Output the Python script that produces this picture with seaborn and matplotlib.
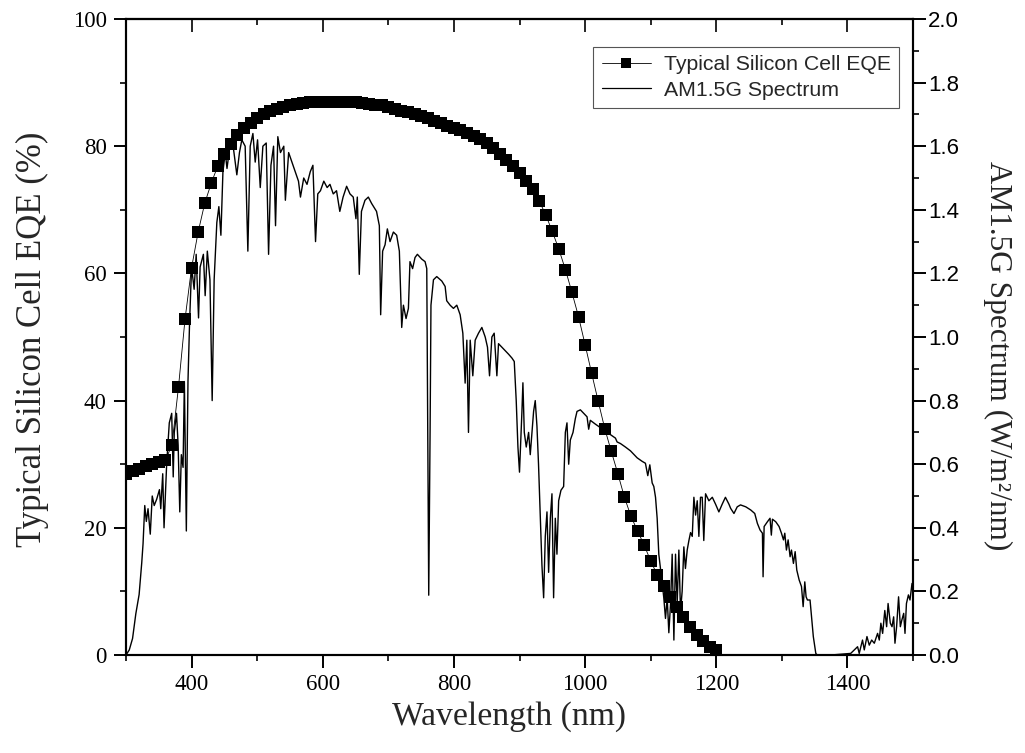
import matplotlib
matplotlib.use("Agg")
import matplotlib.pyplot as plt
from matplotlib.ticker import MultipleLocator
from matplotlib.lines import Line2D
import seaborn as sns
import pandas as pd

# ---- data -------------------------------------------------------------
eqe_wavelength = list(range(300, 1201, 10))
eqe_percent = [
    28.5, 28.9, 29.3, 29.7, 30.0, 30.3, 30.6, 33.0, 42.1, 52.8,
    60.9, 66.5, 71.0, 74.2, 76.9, 78.8, 80.4, 81.7, 82.8, 83.7,
    84.4, 85.0, 85.5, 85.9, 86.2, 86.5, 86.7, 86.8, 86.9, 87.0,
    87.0, 87.0, 87.0, 87.0, 86.9, 86.9, 86.8, 86.7, 86.5, 86.4,
    86.2, 85.9, 85.6, 85.3, 85.0, 84.7, 84.4, 84.0, 83.6, 83.2,
    82.8, 82.5, 82.1, 81.6, 81.1, 80.5, 79.7, 78.8, 77.9, 76.9,
    75.8, 74.6, 73.3, 71.4, 69.2, 66.6, 63.8, 60.6, 57.0, 53.2,
    48.8, 44.3, 39.9, 35.6, 32.0, 28.5, 24.8, 21.8, 19.5, 17.3,
    14.8, 12.6, 10.9, 9.1, 7.5, 5.9, 4.4, 3.2, 2.2, 1.3, 0.8,
]

spec_wavelength = [
    300, 305, 310, 315, 320, 324, 326, 328.6, 331, 333.6, 337, 340, 343, 346.8,
    351, 353, 356, 358, 362, 366, 369.7, 372, 373.6, 377, 379.5, 382, 384.4,
    387, 389, 392, 394.5, 397, 400, 403.9, 407, 410.6, 413, 418, 420.7, 424,
    428, 431.4, 434.4, 438.5, 441.6, 444.7, 447.8, 451.3, 454, 459, 464, 469,
    473, 476.6, 481.7, 485.8, 489.4, 493.5, 497, 500.6, 504.7, 508.7, 513.8,
    517.4, 521, 525, 528, 531.5, 535.5, 540.6, 543, 548, 553, 558, 563, 566,
    571, 576, 581, 585, 589, 592.4, 596.5, 601.6, 606.7, 611, 616, 621, 626,
    631, 636.4, 641.5, 646.5, 650.6, 652.7, 655.7, 659, 664.4, 669.5, 674.5,
    682, 686.3, 688.3, 691.3, 695, 698.5, 702.6, 707.7, 712.7, 716.8, 718.9,
    720.4, 723, 727, 730.6, 733, 737, 740.7, 744.3, 750.9, 756, 758.6, 760,
    761.6, 763.7, 765, 768.8, 773.8, 781.5, 786.6, 789, 794.2, 799.3, 804.4,
    809.5, 813.6, 817.1, 819.7, 822.2, 824.8, 828.8, 832.4, 837.5, 842.6,
    847.7, 851.2, 854.3, 857.9, 861.4, 865.5, 868, 873, 878.2, 883.3, 888.4,
    892, 895, 897.6, 900, 903.7, 905.2, 907.3, 910.3, 913.9, 916.4, 921.5,
    924, 926.6, 929, 931.7, 934.2, 936.8, 939.3, 941.9, 944.4, 947, 949.5,
    952, 954.6, 957.1, 959.7, 963.2, 967.3, 969.9, 972.4, 975, 977.5, 981.6,
    985.1, 987.7, 992.8, 997.9, 1003, 1005.5, 1008, 1015.7, 1023.3, 1031,
    1038.6, 1046.3, 1048.8, 1053.9, 1061.5, 1069.2, 1074.3, 1079.4, 1087,
    1092, 1095.6, 1098.7, 1102.3, 1104.8, 1107.4, 1109.9, 1112.4, 1115,
    1117.5, 1120, 1122.6, 1125.2, 1127.7, 1130.3, 1132.8, 1135.4, 1137.9,
    1140.4, 1143, 1145.5, 1148, 1150.6, 1153, 1155.7, 1158.3, 1160.8, 1163.4,
    1165.9, 1168.5, 1171, 1173.5, 1176, 1178.6, 1181, 1183.7, 1188.8, 1194,
    1199, 1204, 1209, 1214, 1219.4, 1222, 1227, 1232, 1237, 1245, 1252.6,
    1258.7, 1262.7, 1266.8, 1270.4, 1271.4, 1273, 1278, 1282, 1284, 1285.7,
    1290.7, 1295.8, 1299.4, 1302.5, 1304.5, 1307, 1309.6, 1312.6, 1314.7,
    1317.7, 1320.3, 1322.8, 1326.4, 1330, 1332.5, 1335, 1337, 1339, 1343,
    1345.7, 1348, 1351.8, 1354, 1375, 1405, 1415.5, 1418, 1423, 1425.7,
    1429.8, 1433.3, 1437, 1441, 1446, 1448.6, 1451, 1453.7, 1457, 1459.8,
    1462, 1465.4, 1468, 1470.5, 1472.5, 1475, 1478, 1480.7, 1483, 1485.8,
    1487.8, 1490, 1493, 1495.4, 1498.5, 1500,
]
spec_irradiance = [
    0.0, 0.016, 0.052, 0.13, 0.19, 0.29, 0.35, 0.47, 0.42, 0.46, 0.38, 0.50, 0.47, 0.49,
    0.52, 0.46, 0.57, 0.40, 0.60, 0.73, 0.76, 0.56, 0.70, 0.76, 0.66, 0.45, 0.63,
    0.59, 0.86, 0.39, 0.86, 1.05, 1.22, 1.15, 1.26, 1.06, 1.22, 1.26, 1.13, 1.27,
    1.18, 0.80, 1.18, 1.36, 1.41, 1.32, 1.52, 1.58, 1.53, 1.61, 1.59, 1.51,
    1.58, 1.62, 1.60, 1.27, 1.60, 1.64, 1.55, 1.62, 1.47, 1.60, 1.61,
    1.26, 1.54, 1.60, 1.35, 1.63, 1.58, 1.60, 1.43, 1.58, 1.55, 1.52, 1.49, 1.44,
    1.50, 1.48, 1.52, 1.54, 1.30, 1.45, 1.46, 1.49, 1.47, 1.48, 1.45, 1.46, 1.395,
    1.44, 1.474, 1.45, 1.44, 1.372, 1.44, 1.197, 1.395, 1.43, 1.44, 1.42,
    1.395, 1.35, 1.07, 1.27, 1.29, 1.34, 1.30, 1.33, 1.32, 1.27, 1.125,
    1.03, 1.10, 1.058, 1.09, 1.237, 1.215, 1.25, 1.26, 1.245, 1.237, 1.215, 0.71,
    0.188, 0.71, 1.10, 1.18, 1.19, 1.176, 1.159, 1.114, 1.10, 1.09, 1.10,
    1.07, 1.012, 0.855, 0.99, 0.70, 0.99, 0.878, 0.99, 1.012, 1.03,
    1.00, 0.968, 0.878, 1.00, 1.012, 0.878, 0.979, 0.968, 0.957, 0.946, 0.934,
    0.923, 0.80, 0.654, 0.575, 0.766, 0.856, 0.70, 0.654, 0.70, 0.63, 0.766,
    0.80, 0.72, 0.60, 0.43, 0.283, 0.18, 0.373, 0.45, 0.26, 0.43, 0.507,
    0.18, 0.43, 0.317, 0.485, 0.518, 0.53, 0.70, 0.73, 0.60, 0.676, 0.70,
    0.743, 0.766, 0.771, 0.76, 0.749, 0.71, 0.738, 0.726, 0.715, 0.704,
    0.693, 0.682, 0.67, 0.665, 0.654, 0.642, 0.631, 0.62, 0.609,
    0.603, 0.564, 0.598, 0.541, 0.53, 0.496, 0.43, 0.317, 0.272,
    0.227, 0.18, 0.115, 0.18, 0.07, 0.16, 0.317, 0.047, 0.317,
    0.16, 0.33, 0.137, 0.2, 0.34, 0.272, 0.33, 0.36, 0.385, 0.373,
    0.496, 0.44, 0.485, 0.373, 0.496, 0.496, 0.36, 0.507, 0.485, 0.496,
    0.474, 0.45, 0.474, 0.496, 0.474, 0.461, 0.445, 0.466, 0.472, 0.466, 0.456,
    0.445, 0.414, 0.393, 0.383, 0.246, 0.404, 0.419, 0.43, 0.377, 0.427,
    0.419, 0.404, 0.383, 0.362, 0.383, 0.33, 0.362, 0.309, 0.33,
    0.288, 0.325, 0.267, 0.236, 0.215, 0.152, 0.23, 0.183, 0.173, 0.173,
    0.11, 0.058, 0.005, 0.0, 0.0, 0.005, 0.026, 0.005, 0.047, 0.016,
    0.058, 0.031, 0.047, 0.037, 0.068, 0.047, 0.10, 0.068, 0.14, 0.089,
    0.162, 0.10, 0.089, 0.12, 0.037, 0.089, 0.183, 0.089, 0.11, 0.131,
    0.068, 0.162, 0.189, 0.173, 0.225, 0.21,
]

x_ticks = [400, 600, 800, 1000, 1200, 1400]
left_ticks = [0, 20, 40, 60, 80, 100]
right_ticks = [0.0, 0.2, 0.4, 0.6, 0.8, 1.0, 1.2, 1.4, 1.6, 1.8, 2.0]

eqe_label = "Typical Silicon Cell EQE"
spec_label = "AM1.5G Spectrum"

# ---- style ------------------------------------------------------------
sns.set_theme(style="ticks")
plt.rcParams["font.family"] = ["Liberation Serif", "DejaVu Serif"]
plt.rcParams["axes.linewidth"] = 1.5

SERIF = "Liberation Serif"
SANS = "Liberation Sans"

eqe_df = pd.DataFrame({"wavelength": eqe_wavelength, "eqe": eqe_percent})
spec_df = pd.DataFrame({"wavelength": spec_wavelength, "irradiance": spec_irradiance})

fig = plt.figure(figsize=(10.25, 7.53), dpi=100)
ax = fig.add_axes([126 / 1025, 1 - 655 / 753, (913 - 126) / 1025, (655 - 19) / 753])
ax2 = ax.twinx()

sns.lineplot(data=eqe_df, x="wavelength", y="eqe", ax=ax, color="black",
             linewidth=0.6, marker="s", markersize=8.3, markeredgewidth=0,
             estimator=None, sort=False, label=eqe_label, legend=False)
sns.lineplot(data=spec_df, x="wavelength", y="irradiance", ax=ax2, color="black",
             linewidth=1.0, estimator=None, sort=False, label=spec_label, legend=False)

ax.set_xlim(300, 1500)
ax.set_ylim(0, 100)
ax2.set_ylim(0, 2.0)

ax.set_xticks(x_ticks)
ax.xaxis.set_minor_locator(MultipleLocator(100))
ax.set_yticks(left_ticks)
ax.yaxis.set_minor_locator(MultipleLocator(10))
ax2.set_yticks(right_ticks)
ax2.set_yticklabels([f"{v:.1f}" for v in right_ticks])
ax2.yaxis.set_minor_locator(MultipleLocator(0.1))

for a in (ax, ax2):
    for s in a.spines.values():
        s.set_linewidth(1.5)
        s.set_color("black")

ax.tick_params(axis="both", which="major", direction="out", length=9, width=1.4,
               labelsize=16.5, pad=5, colors="black")
ax.tick_params(axis="both", which="minor", direction="out", length=4.5, width=1.4)
ax.tick_params(axis="y", right=False)
ax2.tick_params(axis="y", which="major", direction="out", length=9, width=1.4,
                labelsize=16, pad=2, colors="black")
ax2.tick_params(axis="y", which="minor", direction="out", length=4.5, width=1.4)
for lbl in ax.get_xticklabels() + ax.get_yticklabels():
    lbl.set_fontfamily(SERIF)
for lbl in ax2.get_yticklabels():
    lbl.set_fontfamily(SANS)

# inward ticks along the top edge
top = ax.secondary_xaxis("top")
top.set_xticks(x_ticks)
top.xaxis.set_minor_locator(MultipleLocator(100))
top.tick_params(axis="x", which="major", direction="in", length=9, width=1.4, labeltop=False)
top.tick_params(axis="x", which="minor", direction="in", length=4.5, width=1.4)
top.spines["top"].set_linewidth(1.5)

ax.set_xlabel("Wavelength (nm)", fontsize=24.2, fontfamily=SERIF)
ax.xaxis.label.set_verticalalignment("center")
ax.xaxis.set_label_coords((509.5 - 126) / 787, (655 - 717) / 636)

ax.set_ylabel("Typical Silicon Cell EQE (%)", fontsize=25, fontfamily=SERIF)
ax.yaxis.label.set_verticalalignment("center")
ax.yaxis.set_label_coords((32 - 126) / 787, (655 - 339) / 636)

ax2.set_ylabel("AM1.5G Spectrum (W/m\u00b2/nm)", fontsize=22.5, fontfamily=SERIF,
               rotation=270)
ax2.yaxis.label.set_verticalalignment("center")
ax2.yaxis.set_label_coords((998 - 126) / 787, (655 - 356) / 636)

handles = [
    Line2D([], [], color="black", linewidth=0.6, marker="s", markersize=6.5,
           markeredgewidth=0),
    Line2D([], [], color="black", linewidth=0.9),
]
leg = ax2.legend(handles, [eqe_label, spec_label],
                 loc="upper right", bbox_to_anchor=(899 / 1025, 1 - 47 / 753),
                 bbox_transform=fig.transFigure, borderaxespad=0,
                 prop={"family": SANS, "size": 15.3}, frameon=True, fancybox=False,
                 edgecolor="#555555", framealpha=1, handlelength=2.3,
                 handletextpad=0.6, labelspacing=0.3, borderpad=0.4)
leg.get_frame().set_linewidth(0.8)

fig.savefig("out.png", dpi=100)
